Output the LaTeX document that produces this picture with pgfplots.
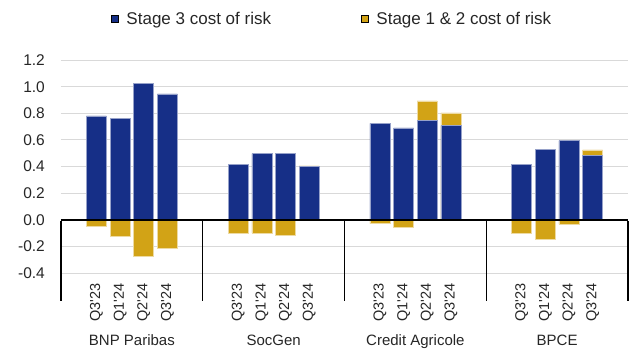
\documentclass[border=0pt]{standalone}
\usepackage{pgfplots}
\pgfplotsset{compat=1.18}
\usepackage{fontspec}
\setmainfont{Liberation Sans}[Ligatures=TeXOff]
\definecolor{cblue}{RGB}{22,47,135}
\definecolor{cyellow}{RGB}{210,163,22}
\definecolor{cgrid}{RGB}{217,217,217}
\begin{document}
\begin{tikzpicture}[x=1pt,y=1pt]
\useasboundingbox (0,0) rectangle (637,349);
\begin{axis}[
  at={(61pt,75.7pt)}, anchor=south west,
  scale only axis, width=567pt, height=213.3pt,
  xmin=0, xmax=24, ymin=-0.4, ymax=1.2,
  clip=false,
  axis line style={draw=none},
  major tick length=0pt,
  ytick={-0.4,-0.2,0,0.2,0.4,0.6,0.8,1.0,1.2},
  yticklabels={-0.4,-0.2,0.0,0.2,0.4,0.6,0.8,1.0,1.2},
  yticklabel style={anchor=east, inner sep=0pt, font=\fontsize{15.5}{18}\selectfont, text=black!85},
  yticklabel shift=16pt,
  ymajorgrids, grid style={cgrid, line width=1pt},
  xtick={1.5,2.5,3.5,4.5,7.5,8.5,9.5,10.5,13.5,14.5,15.5,16.5,19.5,20.5,21.5,22.5},
  xticklabels={Q3'23,Q1'24,Q2'24,Q3'24,Q3'23,Q1'24,Q2'24,Q3'24,Q3'23,Q1'24,Q2'24,Q3'24,Q3'23,Q1'24,Q2'24,Q3'24},
  xticklabel style={rotate=90, anchor=east, inner sep=0pt, font=\fontsize{14.5}{17}\selectfont, text=black!85},
  xticklabel shift=10pt,
  legend columns=2,
  legend style={at={(0.088,1.192)}, anchor=west, draw=none, fill=none,
    font=\fontsize{17}{20}\selectfont, text=black!85, inner sep=0pt,
    /tikz/every even column/.append style={column sep=88pt}},
  legend image code/.code={\fill[#1] (0pt,-3.5pt) rectangle (7pt,3.5pt); \path (13pt,0pt);},
]
\addlegendimage{fill=cblue}
\addlegendentry{Stage 3 cost of risk}
\addlegendimage{fill=cyellow}
\addlegendentry{Stage 1 \& 2 cost of risk}
% Stage 3 + Stage 1&2 totals where Stage 1&2 is positive (drawn beneath blue)
\addplot[ybar, bar width=0.85, fill=cyellow, draw=white!60!cyellow, line width=0.5pt, forget plot]
  coordinates {(10.5,0.405) (15.5,0.893) (16.5,0.803) (22.5,0.525)};
% Stage 3
\addplot[ybar, bar width=0.85, fill=cblue, draw=white!55!cblue, line width=0.5pt, forget plot]
  coordinates {(1.5,0.78) (2.5,0.763) (3.5,1.025) (4.5,0.945)
               (7.5,0.418) (8.5,0.498) (9.5,0.498) (10.5,0.400)
               (13.5,0.725) (14.5,0.690) (15.5,0.745) (16.5,0.708)
               (19.5,0.418) (20.5,0.528) (21.5,0.595) (22.5,0.485)};
% Stage 1&2 negative
\addplot[ybar, bar width=0.85, fill=cyellow, draw=white!60!cyellow, line width=0.5pt, forget plot]
  coordinates {(1.5,-0.045) (2.5,-0.12) (3.5,-0.275) (4.5,-0.215)
               (7.5,-0.102) (8.5,-0.098) (9.5,-0.112)
               (13.5,-0.028) (14.5,-0.055)
               (19.5,-0.098) (20.5,-0.143) (21.5,-0.033)};
\draw[black, line width=1.3pt] (axis cs:0,0) -- (axis cs:24,0);
\draw[black, line width=1.3pt] (axis cs:0,-0.4) ++(0,-1pt) -- ++(0pt,-80pt);
\draw[black, line width=1.3pt] (axis cs:6,-0.4) ++(0,-1pt) -- ++(0pt,-80pt);
\draw[black, line width=1.3pt] (axis cs:12,-0.4) ++(0,-1pt) -- ++(0pt,-80pt);
\draw[black, line width=1.3pt] (axis cs:18,-0.4) ++(0,-1pt) -- ++(0pt,-80pt);
\draw[black, line width=1.3pt] (axis cs:24,-0.4) ++(0,-1pt) -- ++(0pt,-80pt);
\node[anchor=base, inner sep=0pt, font=\fontsize{15}{18}\selectfont, text=black!85] at ([yshift=-71.7pt]axis cs:3,-0.4) {BNP Paribas};
\node[anchor=base, inner sep=0pt, font=\fontsize{15}{18}\selectfont, text=black!85] at ([yshift=-71.7pt]axis cs:9,-0.4) {SocGen};
\node[anchor=base, inner sep=0pt, font=\fontsize{15}{18}\selectfont, text=black!85] at ([yshift=-71.7pt]axis cs:15,-0.4) {Credit Agricole};
\node[anchor=base, inner sep=0pt, font=\fontsize{15}{18}\selectfont, text=black!85] at ([yshift=-71.7pt]axis cs:21,-0.4) {BPCE};
\end{axis}
\end{tikzpicture}
\end{document}
